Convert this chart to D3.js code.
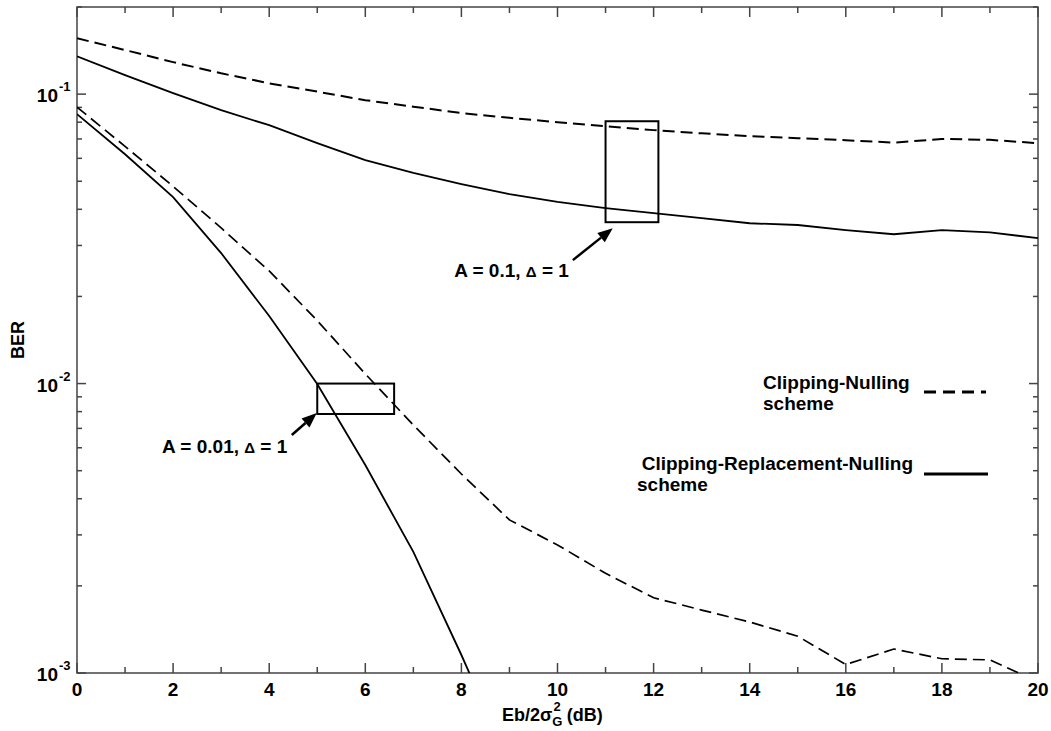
<!DOCTYPE html>
<html><head><meta charset="utf-8">
<script src="https://cdn.jsdelivr.net/npm/d3@7"></script>
<style>
html,body{margin:0;padding:0;background:#fff;}
text{font-family:"Liberation Sans",Arial,sans-serif;fill:#000;}
</style></head>
<body>
<svg id="chart" width="1051" height="731"></svg>
<script>
// ---- data ----
const snr = [0,1,2,3,4,5,6,7,8,9,10,11,12,13,14,15,16,17,18,19,20];
const cnA01 = [0.156,0.142,0.129,0.118,0.109,0.102,0.0953,0.0905,0.0860,0.0828,0.0800,0.0775,0.0751,0.0732,0.0716,0.0704,0.0693,0.0680,0.0700,0.0695,0.0677];
const crnA01 = [0.135,0.1163,0.1008,0.0880,0.0781,0.0677,0.0592,0.0534,0.0489,0.0451,0.0424,0.0404,0.0388,0.0373,0.0358,0.0353,0.0339,0.0328,0.0339,0.0333,0.0318];
const snrCnA001 = [0,1,2,3,4,5,6,7,8,9,10,11,12,13,14,15,16,17,18,19,19.6,20];
const cnA001 = [0.0902,0.0660,0.0480,0.0345,0.0245,0.0165,0.01080,0.00719,0.00487,0.00338,0.00277,0.00221,0.00182,0.00165,0.00150,0.00134,0.00107,0.00121,0.00112,0.00111,0.00100,0.00092];
const snrCrnA001 = [0,1,2,3,4,5,6,7,8,8.3];
const crnA001 = [0.0853,0.0620,0.0441,0.02824,0.01711,0.00996,0.00523,0.00262,0.001154,0.00089];
const xTickLabels = [0,2,4,6,8,10,12,14,16,18,20];
const yTickExps = [-3,-2,-1];
const legendNames = ["Clipping-Nulling", "Clipping-Replacement-Nulling"];
// annotation boxes in data units
const boxes = [{x0:11,x1:12.1,y0:0.0361,y1:0.0806},{x0:5.0,x1:6.6,y0:0.00785,y1:0.0100}];
const arrows = [{x0:10.32,y0:0.0267,x1:11.15,y1:0.0344},{x0:4.47,y0:0.00664,x1:4.99,y1:0.00791}];
const notes = [{x:7.85,y:0.0247,a:"0.1"},{x:1.77,y:0.00608,a:"0.01"}];

// ---- layout ----
const svg = d3.select("#chart");
const L=77, R=1038, T=7, B=673;
const x = d3.scaleLinear().domain([0,20]).range([L,R]);
const y = d3.scaleLog().domain([0.001,0.2]).range([B,T]);

svg.append("defs").append("clipPath").attr("id","clip")
  .append("rect").attr("x",L).attr("y",T).attr("width",R-L).attr("height",B-T);

// frame
svg.append("rect").attr("x",L).attr("y",T).attr("width",R-L).attr("height",B-T)
  .attr("fill","none").attr("stroke","#444").attr("stroke-width",1.5);

// ticks
const tg = svg.append("g").attr("stroke","#444").attr("stroke-width",1.5);
for(let v=0; v<=20; v++){
  const len = v%2===0 ? 10 : 6;
  tg.append("line").attr("x1",x(v)).attr("x2",x(v)).attr("y1",B).attr("y2",B-len);
  tg.append("line").attr("x1",x(v)).attr("x2",x(v)).attr("y1",T).attr("y2",T+len);
}
const yMinor = [];
for(let e=-3;e<=-1;e++){ for(let m=1;m<=9;m++){ const v=m*Math.pow(10,e); if(v<=0.2+1e-9) yMinor.push({v,major:m===1}); } }
yMinor.forEach(d=>{
  const len = d.major?9:5;
  tg.append("line").attr("x1",L).attr("x2",L+len).attr("y1",y(d.v)).attr("y2",y(d.v));
  tg.append("line").attr("x1",R).attr("x2",R-len).attr("y1",y(d.v)).attr("y2",y(d.v));
});

// tick labels
svg.selectAll(".xl").data(xTickLabels).enter().append("text")
  .attr("x",d=>x(d)).attr("y",B+23).attr("text-anchor","middle")
  .attr("font-size",19).attr("font-weight","bold").text(d=>d);
yTickExps.forEach(e=>{
  svg.append("text").attr("x",58).attr("y",y(Math.pow(10,e))+8)
    .attr("text-anchor","end").attr("font-size",19).attr("font-weight","bold").text("10");
  svg.append("text").attr("x",59).attr("y",y(Math.pow(10,e))-3)
    .attr("font-size",13).attr("font-weight","bold").text(String(e));
});

// axis titles
svg.append("text").attr("transform",`translate(24,${(T+B)/2}) rotate(-90)`)
  .attr("text-anchor","middle").attr("font-size",18).attr("font-weight","bold").text("BER");
const xt = svg.append("text").attr("x",502).attr("y",721).attr("font-size",18).attr("font-weight","bold");
xt.append("tspan").text("Eb/2\u03C3");
xt.append("tspan").attr("font-size",13).attr("dy",5).text("G");
xt.append("tspan").attr("font-size",13).attr("dx",-9).attr("dy",-15).text("2");
xt.append("tspan").attr("dy",10).attr("dx",6).text("(dB)");

// curves
const line = d3.line().x(d=>x(d[0])).y(d=>y(d[1]));
const cg = svg.append("g").attr("clip-path","url(#clip)").attr("fill","none").attr("stroke","#000");
cg.append("path").datum(d3.zip(snr,cnA01)).attr("d",line).attr("stroke-width",2).attr("stroke-dasharray","12,6");
cg.append("path").datum(d3.zip(snr,crnA01)).attr("d",line).attr("stroke-width",1.8);
cg.append("path").datum(d3.zip(snrCnA001,cnA001)).attr("d",line).attr("stroke-width",1.7).attr("stroke-dasharray","12,6");
cg.append("path").datum(d3.zip(snrCrnA001,crnA001)).attr("d",line).attr("stroke-width",1.8);

// boxes
boxes.forEach(b=>{
  svg.append("rect").attr("x",x(b.x0)).attr("y",y(b.y1))
    .attr("width",x(b.x1)-x(b.x0)).attr("height",y(b.y0)-y(b.y1))
    .attr("fill","none").attr("stroke","#000").attr("stroke-width",2);
});
// arrows
arrows.forEach(a=>{
  const x0=x(a.x0), y0=y(a.y0), x1=x(a.x1), y1=y(a.y1);
  const ang=Math.atan2(y1-y0,x1-x0), hl=15, hw=6;
  const bx=x1-hl*Math.cos(ang), by=y1-hl*Math.sin(ang);
  svg.append("line").attr("x1",x0).attr("y1",y0).attr("x2",bx).attr("y2",by)
    .attr("stroke","#000").attr("stroke-width",2.5);
  const px=-Math.sin(ang), py=Math.cos(ang);
  svg.append("path").attr("d",`M${x1},${y1}L${bx+hw*px},${by+hw*py}L${bx-hw*px},${by-hw*py}Z`).attr("fill","#000");
});
// notes
notes.forEach(n=>{
  const t=svg.append("text").attr("x",x(n.x)).attr("y",y(n.y)+7).attr("font-size",19).attr("font-weight","bold");
  t.append("tspan").text(`A = ${n.a},  `);
  t.append("tspan").attr("font-size",15).text("\u0394");
  t.append("tspan").text(" = 1");
});

// legend
const lg = svg.append("g").attr("font-weight","bold");
lg.append("text").attr("x",763).attr("y",389).attr("font-size",19).attr("font-weight","bold").text(legendNames[0]);
lg.append("text").attr("x",763).attr("y",410).attr("font-size",19).attr("font-weight","bold").text("scheme");
lg.append("line").attr("x1",924).attr("x2",986).attr("y1",392).attr("y2",392)
  .attr("stroke","#000").attr("stroke-width",3).attr("stroke-dasharray","12,7");
lg.append("text").attr("x",913).attr("y",470).attr("text-anchor","end").attr("font-size",19).attr("font-weight","bold").text(legendNames[1]);
lg.append("text").attr("x",637).attr("y",491).attr("font-size",19).attr("font-weight","bold").text("scheme");
lg.append("line").attr("x1",924).attr("x2",988).attr("y1",474).attr("y2",474)
  .attr("stroke","#000").attr("stroke-width",3);
</script>
</body></html>
